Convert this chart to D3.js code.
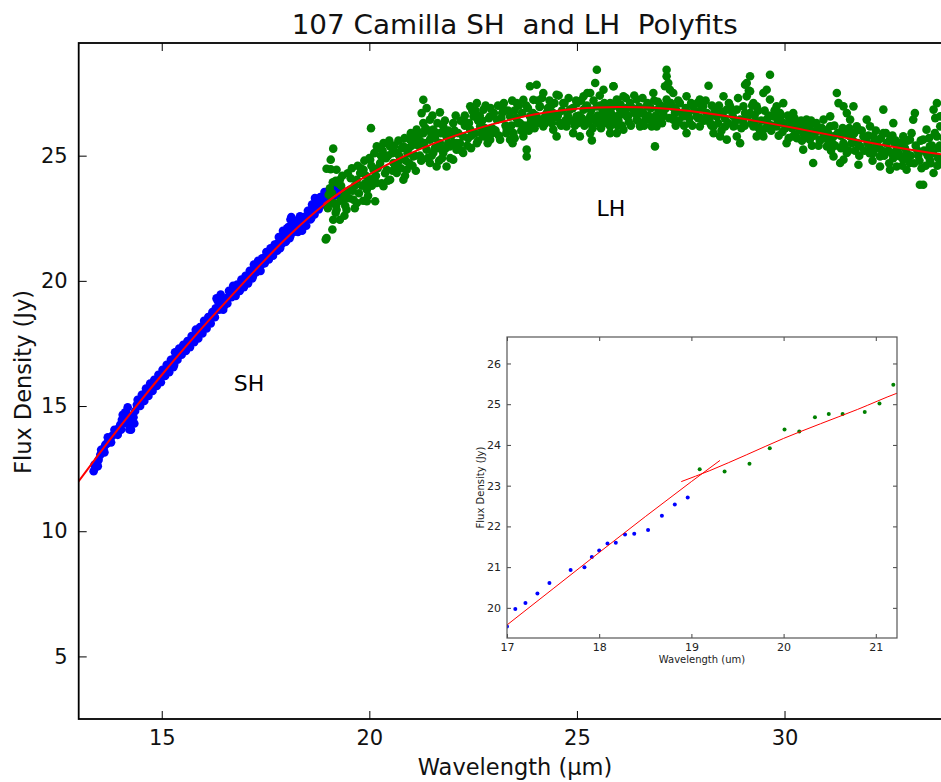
<!DOCTYPE html>
<html>
<head>
<meta charset="utf-8">
<script src="https://cdn.jsdelivr.net/npm/d3@7"></script>
<style>
  html, body { margin: 0; padding: 0; background: #fff; }
  svg { display: block; font-family: "DejaVu Sans", sans-serif; }
</style>
</head>
<body>
<svg id="chart" width="941" height="782"></svg>
<script>
// ---------------- DATA ----------------
const title = "107 Camilla SH  and LH  Polyfits";
const xTicks = [15, 20, 25, 30];
const yTicks = [5, 10, 15, 20, 25];
const insetXTicks = [17, 18, 19, 20, 21];
const insetYTicks = [20, 21, 22, 23, 24, 25, 26];

// SH spectrum (wavelength um, flux Jy)
const shPoints = [
 [13.36,12.40],[13.40,12.55],[13.44,12.70],[13.48,12.85],[13.52,13.05],[13.56,13.20],[13.60,13.30],[13.64,13.45],
 [13.68,13.50],[13.72,13.62],[13.76,13.70],[13.80,13.80],[13.84,13.85],[13.88,13.95],[13.92,14.05],[13.96,14.10],
 [14.00,14.25],[14.04,14.45],[14.08,14.60],[14.12,14.75],[14.16,14.70],[14.20,14.35],[14.24,14.20],[14.28,14.35],
 [14.32,14.55],[14.36,14.80],[14.40,15.05],[14.45,15.15],[14.50,15.25],[14.55,15.35],[14.60,15.50],[14.65,15.55],
 [14.70,15.70],[14.75,15.75],[14.80,15.85],[14.85,15.95],[14.90,16.05],[14.95,16.10],[15.00,16.25],[15.05,16.30],
 [15.10,16.45],[15.15,16.50],[15.20,16.60],[15.25,16.70],[15.30,16.90],[15.35,17.05],[15.40,17.10],[15.45,17.15],
 [15.50,17.25],[15.55,17.30],[15.60,17.40],[15.65,17.50],[15.70,17.60],[15.75,17.70],[15.80,17.85],[15.85,17.85],
 [15.90,17.95],[15.95,18.05],[16.00,18.20],[16.05,18.25],[16.10,18.35],[16.15,18.40],[16.20,18.55],[16.25,18.70],
 [16.30,18.90],[16.35,19.20],[16.40,19.30],[16.45,19.10],[16.50,19.00],[16.55,19.15],[16.60,19.35],[16.65,19.55],
 [16.70,19.60],[16.75,19.55],[16.80,19.60],[16.85,19.75],[16.90,19.80],[16.95,19.90],[17.00,19.95],[17.05,20.05],
 [17.10,20.15],[17.15,20.30],[17.20,20.45],[17.25,20.55],[17.30,20.60],[17.35,20.55],[17.40,20.65],[17.45,20.80],
 [17.50,20.95],[17.55,21.05],[17.60,21.10],[17.65,21.15],[17.70,21.25],[17.75,21.30],[17.80,21.50],[17.85,21.65],
 [17.90,21.80],[17.95,21.75],[18.00,21.95],[18.05,22.15],[18.10,22.45],[18.15,22.35],[18.20,22.20],[18.25,22.05],
 [18.30,22.25],[18.35,22.20],[18.40,22.30],[18.45,22.45],[18.50,22.60],[18.55,22.70],[18.60,22.85],[18.65,23.05],
 [18.70,23.10],[18.75,23.00],[18.80,23.15],[18.85,23.30],[18.90,23.35],[18.95,23.40],[19.00,23.30],[19.05,23.45],
 [19.10,23.50],[19.15,23.40],[19.20,23.65],[19.25,23.70],[19.30,23.55],
 [14.10,14.30],[14.22,14.06],[15.30,16.65],[16.38,18.85],[17.20,20.20],[17.85,21.30],[18.00,21.60],[18.10,21.80],
 [18.60,22.50],[18.33,22.58],[18.69,23.31],[18.89,23.37],[19.21,23.71],
 [13.38,12.65],[13.46,12.60],[13.54,13.25],[13.62,13.15],[13.70,13.75],[13.78,13.55],[13.86,14.05],[13.94,13.85],
 [14.02,14.05],[14.06,14.65],[14.14,14.55],[14.18,14.95],[14.26,14.05],[14.30,14.60],[14.34,14.30],[14.42,15.25],
 [14.48,15.00],[14.52,15.45],[14.58,15.20],[14.62,15.70],[14.68,15.40],[14.72,15.90],[14.78,15.60],[14.82,16.05],
 [14.88,15.80],[14.92,16.25],[14.98,15.95],[15.02,16.45],[15.08,16.20],[15.12,16.65],[15.18,16.35],[15.22,16.85],
 [15.28,16.55],[15.32,17.15],[15.38,16.85],[15.42,17.30],[15.48,17.05],[15.52,17.45],[15.58,17.20],[15.62,17.60],
 [15.68,17.35],[15.72,17.80],[15.78,17.55],[15.82,18.05],[15.88,17.70],[15.92,18.15],[15.98,17.90],[16.02,18.40],
 [16.08,18.10],[16.12,18.55],[16.18,18.30],[16.22,18.75],[16.28,18.55],[16.32,19.30],[16.42,19.45],[16.48,18.85],
 [16.52,19.25],[16.58,19.10],[16.62,19.60],[16.68,19.35],[16.72,19.80],[16.78,19.40],[16.82,19.85],[16.88,19.60],
 [16.92,20.05],[16.98,19.75],[17.02,20.20],[17.08,19.90],[17.12,20.40],[17.18,20.10],[17.22,20.65],[17.28,20.35],
 [17.32,20.80],[17.38,20.40],[17.42,20.90],[17.48,20.70],[17.52,21.15],[17.58,20.85],[17.62,21.30],[17.68,21.00],
 [17.72,21.45],[17.78,21.20],[17.82,21.75],[17.88,21.45],[17.92,22.00],[17.98,21.55],[18.02,22.10],[18.08,21.70],
 [18.12,22.55],[18.18,21.95],[18.22,22.40],[18.28,21.95],[18.32,22.45],[18.38,22.00],[18.42,22.55],[18.48,22.20],
 [18.52,22.80],[18.58,22.45],[18.62,23.05],[18.68,22.65],[18.72,23.25],[18.78,22.85],[18.82,23.35],[18.88,23.05],
 [18.92,23.55],[18.98,23.15],[19.02,23.60],[19.08,23.30],[19.12,23.65],[19.18,23.45],[19.22,23.80],[19.28,23.50]
];

// LH spectrum (wavelength um, flux Jy)
const lhPoints = [
 [19.13,25.28],[19.07,24.84],[18.97,24.48],[19.21,24.44],[19.29,24.04],[19.05,23.11],[19.13,22.44],[18.97,21.71],
 [19.21,22.84],[19.37,23.24],[19.45,23.51],[19.29,22.44],[18.95,21.65],[19.11,22.05],[19.19,24.00],[19.19,22.72],
 [19.07,24.46],[19.12,23.94],[19.02,23.44],
 [19.53,23.64],[19.70,24.04],[19.62,23.24],[19.78,24.31],[19.86,24.44],[19.45,22.84],[19.70,23.11],[19.94,23.18],
 [20.04,26.10],[20.14,23.18],
 [20.02,24.84],[20.18,25.37],[20.34,25.50],[20.50,25.37],[20.10,24.44],[20.26,24.71],[20.42,24.44],[20.18,23.91],
 [20.34,23.78],[20.50,24.04],[20.02,24.04],[19.94,23.64],
 [20.66,25.11],[20.82,25.37],[20.98,25.64],[21.14,25.77],[20.58,24.71],[20.74,24.84],[20.90,24.44],[21.06,24.97],
 [20.82,24.04],[20.66,24.31],[21.14,26.04],
 [21.30,27.23],[21.26,26.70],[21.38,26.90],[21.30,26.30],[21.46,26.44],[21.54,26.04],[21.30,25.90],[21.46,25.64],
 [21.62,25.90],[21.38,25.24],[21.54,25.11],[21.46,24.71],[21.62,24.57],
 [21.70,26.73],[21.78,26.17],[21.86,25.77],[22.02,26.30],[21.94,25.37],[21.78,25.11],[22.10,25.24],[21.86,24.57],
 [22.02,24.84],[21.70,25.50],
 [22.26,25.77],[22.43,26.97],[22.51,26.57],[22.34,26.30],[22.18,25.50],[22.59,25.50],[22.26,25.11],[22.43,26.04],
 [22.59,27.10],[22.75,26.84],[22.91,26.57],[22.67,26.17],[22.83,25.90],[22.99,26.04],[23.07,26.44],[22.91,25.64],
 [22.75,25.77],
 [23.23,26.84],[23.39,26.57],[23.55,27.10],[23.71,27.23],[23.31,26.04],[23.47,25.90],[23.63,26.30],[23.15,25.64],
 [23.39,25.64],[23.71,25.77],[23.79,24.97],[23.79,25.24],
 [23.87,27.77],[24.03,27.83],[24.19,27.50],[23.95,27.23],[24.11,26.97],[24.27,26.70],[23.87,26.57],[24.03,26.30],
 [24.19,26.17],[24.35,26.44],[24.51,27.43],
 [24.43,26.04],[24.51,25.77],[24.67,27.10],[24.83,26.84],[24.99,26.57],[24.59,26.30],[24.75,26.17],[24.91,25.90],
 [24.43,26.70],
 [25.48,28.43],[25.44,27.90],[25.32,27.50],[25.16,27.37],[25.64,27.63],[25.88,27.77],[25.80,27.10],[25.16,26.84],
 [25.32,26.57],[25.48,26.97],[25.64,26.44],[25.80,26.17],[25.96,26.57],[25.07,25.77],[25.32,25.90],[25.36,25.61],
 [25.80,25.90],[26.00,26.97],
 [25.88,27.77],[25.96,27.24],[26.12,27.37],[26.04,26.84],[26.20,26.57],[25.88,26.30],[26.12,26.04],[26.28,27.10],
 [25.96,25.90],
 [26.44,27.24],[26.60,26.70],[26.76,26.44],[26.92,26.17],[26.52,26.17],[26.68,26.97],[26.84,27.50],[27.00,26.44],
 [26.88,25.37],[26.60,26.30],[26.80,26.17],[26.96,26.84],[26.44,26.44],
 [27.16,28.43],[27.16,28.17],[27.20,27.90],[27.12,27.77],[27.24,27.63],[27.32,27.50],[27.16,27.24],[27.28,26.97],
 [27.36,26.70],[27.08,26.70],[27.32,26.44],
 [27.48,27.10],[27.64,27.37],[27.80,26.97],[27.96,27.24],[28.17,27.79],[28.13,26.70],[27.88,26.57],[27.72,26.30],
 [27.56,26.57],[27.64,25.90],[27.96,26.17],[28.21,26.30],[28.04,26.97],
 [28.29,26.17],[28.37,26.57],[28.53,27.37],[28.61,26.84],[28.69,26.97],[28.45,25.77],[28.61,25.64],[28.29,25.90],
 [28.57,26.17],
 [29.17,28.17],[29.09,27.90],[29.05,27.83],[29.17,27.57],[29.09,27.37],[29.25,27.10],[29.01,26.97],[28.85,26.84],
 [28.93,26.44],[28.77,26.17],[28.85,25.77],[28.93,25.50],[29.17,26.70],[29.33,26.97],[29.25,26.17],[29.33,25.77],
 [29.49,25.77],
 [29.57,27.63],[29.65,28.23],[29.49,27.50],[29.65,27.24],[29.81,26.97],[29.97,27.10],[29.73,26.57],[29.57,26.44],
 [29.81,26.17],[29.89,26.70],[29.41,26.04],
 [30.05,25.50],[30.13,26.44],[30.21,26.70],[30.29,26.30],[30.37,26.04],[30.45,25.90],[30.53,26.44],[30.61,25.64],
 [30.21,25.77],[30.45,25.24],[30.61,26.17],
 [30.69,24.71],[30.77,26.30],[30.86,25.64],[30.94,25.90],[31.02,25.37],[31.10,26.17],[31.18,25.77],[31.26,27.50],
 [31.30,27.10],[31.18,24.97],[31.34,24.71],[31.10,26.57],[30.94,26.44],
 [31.42,26.97],[31.50,26.70],[31.58,26.44],[31.66,26.97],[31.74,26.17],[31.42,25.50],[31.58,25.77],[31.78,26.04],
 [31.42,24.84],[31.50,25.11],[31.82,25.37],[31.90,25.77],[31.78,24.64],[31.98,26.44],
 [32.06,26.17],[32.14,25.77],[32.22,25.37],[32.30,24.97],[32.38,26.84],[32.46,25.50],[32.30,24.57],[32.54,24.44],
 [32.14,25.11],[32.54,25.64],[32.38,25.90],
 [32.62,26.30],[32.70,25.24],[32.78,24.97],[32.86,24.84],[32.94,25.11],[33.02,25.64],[32.86,25.77],[32.70,24.57],
 [32.94,24.44],[33.10,26.44],[33.14,26.70],[33.26,23.84],[33.34,23.84],[33.02,24.71],[32.78,25.37],
 [33.34,25.64],[33.42,26.04],[33.50,25.37],[33.59,26.84],[33.67,27.10],[33.75,26.57],[33.50,24.84],[33.59,24.31],
 [33.42,25.11],[33.67,25.77],[33.75,26.17],[33.63,26.50],[33.85,25.20],[33.90,26.00],
 // dense core along the spectrum
 [19.10,23.50],[19.20,23.00],[19.32,23.80],[19.40,23.40],[19.55,24.10],[19.60,23.60],[19.80,24.50],[19.90,23.90],
 [20.05,24.60],[20.10,24.10],[20.28,25.00],[20.38,24.30],[20.55,25.10],[20.62,24.60],[20.78,25.30],[20.88,24.80],
 [21.02,25.40],[21.10,25.00],[21.22,25.60],[21.22,25.00],[21.50,25.80],[21.58,25.30],[21.80,25.90],[21.90,25.50],
 [22.05,26.00],[22.10,25.50],[22.30,26.20],[22.38,25.70],[22.62,26.40],[22.70,25.90],[22.88,26.50],[22.95,26.10],
 [23.20,26.70],[23.28,26.20],[23.50,26.80],[23.58,26.30],[23.82,26.90],[23.90,26.40],[24.10,26.95],[24.20,26.50],
 [24.38,27.00],[24.48,26.55],[24.70,27.10],[24.78,26.60],[25.00,27.10],[25.05,26.60],[25.20,26.90],[25.25,26.40],
 [25.40,27.20],[25.50,26.60],[25.60,26.90],[25.68,26.30],[25.75,26.60],[25.85,26.95],[26.00,26.40],[26.05,27.05],
 [26.20,26.90],[26.25,26.35],[26.40,26.70],[26.50,26.95],[26.65,26.45],[26.70,27.10],[26.90,26.60],[26.95,27.15],
 [27.05,26.30],[27.10,26.95],[27.40,26.80],[27.45,26.40],[27.68,26.70],[27.75,27.10],[27.92,26.50],[28.00,26.85],
 [28.20,26.50],[28.25,27.00],[28.40,26.30],[28.50,26.75],[28.75,26.60],[28.80,26.20],[29.00,26.40],[29.05,26.70],
 [29.30,26.40],[29.38,26.10],[29.60,26.30],[29.68,26.00],[29.90,26.40],[29.95,25.95],[30.18,26.10],[30.25,25.85],
 [30.50,26.15],[30.55,25.80],[30.80,26.00],[30.85,25.60],[31.05,25.90],[31.15,25.50],[31.35,25.80],[31.45,25.40],
 [31.65,25.60],[31.70,25.20],[32.00,25.50],[32.05,25.10],[32.25,25.60],[32.35,25.20],[32.58,25.10],[32.65,25.50],
 [32.90,25.30],[32.98,24.90],[33.20,25.20],[33.25,24.80],[33.45,25.00],[33.55,25.40],[33.70,24.90],[33.72,25.30],
 [19.00,22.90],[19.05,23.70],[19.15,23.10],[19.25,23.90],[19.30,23.20],[19.35,24.20],[19.42,23.00],[19.48,24.30],
 [19.52,23.30],[19.58,24.50],[19.65,23.80],[19.72,24.60],[19.75,23.50],[19.82,23.80],[19.88,24.80],[19.92,24.20],
 [19.97,23.40],[19.40,22.60],[19.65,22.90],[19.85,23.20],
 [20.00,24.90],[20.06,23.80],[20.12,25.10],[20.16,24.20],[20.22,25.30],[20.30,23.90],[20.32,25.20],[20.40,24.90],
 [20.45,24.00],[20.48,25.60],[20.56,24.40],[20.60,25.40],[20.68,24.70],[20.70,25.60],[20.76,24.50],[20.85,25.70],
 [20.86,24.20],[20.92,25.10],[20.96,24.70],[21.00,25.90],[20.20,24.50],[20.45,25.00],[20.72,25.00],[20.95,25.30],
 [21.04,24.60],[21.08,25.60],[21.12,24.40],[21.18,25.40],[21.25,24.80],[21.32,25.50],[21.35,26.10],[21.40,24.90],
 [21.44,26.00],[21.50,25.00],[21.52,26.60],[21.58,25.70],[21.64,26.30],[21.66,25.30],[21.72,25.90],[21.75,24.90],
 [21.82,26.40],[21.84,25.30],[21.90,26.00],[21.95,24.90],[21.98,25.80],[21.20,25.90],[21.68,24.80],
 [22.04,25.50],[22.08,26.60],[22.14,25.90],[22.20,26.40],[22.22,25.20],[22.30,26.60],[22.36,25.40],[22.40,26.30],
 [22.46,25.80],[22.48,26.80],[22.54,25.90],[22.56,26.80],[22.62,25.60],[22.66,26.60],[22.72,26.40],[22.78,26.10],
 [22.80,27.00],[22.86,25.70],[22.92,26.90],[22.96,25.90],[23.00,26.70],[22.45,25.30],[22.85,25.50],
 [23.04,26.00],[23.10,27.00],[23.12,25.80],[23.18,26.50],[23.24,27.10],[23.30,25.90],[23.34,26.80],[23.42,26.20],
 [23.44,27.20],[23.50,25.70],[23.54,26.50],[23.60,27.00],[23.66,26.00],[23.68,26.70],[23.74,26.20],[23.78,27.00],
 [23.84,26.00],[23.88,26.30],[23.94,26.70],[23.98,26.10],[23.45,25.50],
 [24.02,26.60],[24.06,27.20],[24.14,26.40],[24.16,27.30],[24.24,26.30],[24.30,26.90],[24.34,27.20],[24.40,26.30],
 [24.46,27.10],[24.54,26.60],[24.56,27.40],[24.62,26.20],[24.64,26.80],[24.72,26.40],[24.80,27.30],[24.86,26.40],
 [24.90,26.90],[24.95,26.20],[24.98,27.20],
 [25.02,26.30],[25.10,27.20],[25.12,26.50],[25.18,26.20],[25.24,27.00],[25.28,26.30],[25.34,26.80],[25.38,26.10],
 [25.44,26.40],[25.52,26.30],[25.56,27.00],[25.58,26.10],[25.62,26.70],[25.66,27.10],[25.70,26.40],[25.72,26.90],
 [25.78,26.30],[25.82,26.70],[25.90,26.50],[25.92,27.10],[25.98,26.20],[25.55,27.40],[25.25,27.50],
 [26.02,26.60],[26.08,26.20],[26.14,26.80],[26.18,27.30],[26.24,26.60],[26.30,26.20],[26.34,26.90],[26.38,27.40],
 [26.46,26.40],[26.54,26.70],[26.58,27.30],[26.62,26.20],[26.72,26.60],[26.78,26.90],[26.82,26.30],[26.86,27.20],
 [26.94,26.40],[26.98,26.90],
 [27.02,27.00],[27.04,26.50],[27.14,26.90],[27.22,26.50],[27.26,27.10],[27.34,26.90],[27.38,26.20],[27.44,27.20],
 [27.52,26.70],[27.58,26.20],[27.62,26.90],[27.70,26.50],[27.78,26.20],[27.84,26.80],[27.90,27.10],[27.98,26.50],
 [28.06,26.40],[28.10,27.20],[28.16,26.60],[28.24,26.20],[28.32,26.80],[28.42,27.00],[28.48,26.00],[28.56,26.50],
 [28.64,26.30],[28.66,27.10],[28.72,26.80],[28.82,26.40],[28.88,27.30],[28.96,26.10],
 [29.04,26.20],[29.12,26.60],[29.14,27.60],[29.20,26.30],[29.22,27.00],[29.28,26.60],[29.36,26.80],[29.44,26.40],
 [29.46,25.90],[29.52,26.80],[29.54,26.10],[29.62,26.60],[29.70,26.20],[29.76,26.80],[29.84,26.40],[29.86,25.80],
 [29.92,26.60],[29.98,26.30],
 [30.02,26.10],[30.08,26.60],[30.10,25.70],[30.16,26.30],[30.24,26.50],[30.30,25.70],[30.34,26.20],[30.40,26.40],
 [30.42,25.60],[30.48,26.00],[30.58,25.90],[30.64,26.40],[30.66,25.40],[30.72,25.80],[30.76,26.00],[30.82,25.40],
 [30.90,26.10],[30.96,25.70],
 [31.00,26.00],[31.06,25.60],[31.12,25.20],[31.20,26.20],[31.22,25.40],[31.28,25.90],[31.36,25.30],[31.40,26.10],
 [31.48,25.90],[31.54,25.20],[31.56,26.10],[31.62,25.50],[31.68,25.90],[31.76,25.50],[31.80,25.00],[31.86,26.00],
 [31.92,25.20],[31.96,25.70],
 [32.02,25.80],[32.08,25.30],[32.12,24.80],[32.18,25.60],[32.20,26.00],[32.28,25.30],[32.32,25.70],[32.40,25.00],
 [32.44,25.90],[32.50,25.20],[32.52,24.70],[32.60,25.80],[32.62,24.90],[32.68,25.60],[32.74,25.10],[32.80,25.50],
 [32.84,24.60],[32.90,25.00],[32.96,25.60],
 [33.04,25.00],[33.06,25.90],[33.12,24.70],[33.16,25.40],[33.22,25.00],[33.28,25.60],[33.30,24.50],[33.36,25.20],
 [33.40,24.60],[33.48,25.70],[33.52,24.70],[33.58,25.10],[33.62,25.90],[33.68,24.60],[33.74,25.40],[33.80,24.80],
 [33.84,25.70],[33.92,24.60]
];

// Polynomial fit curves
const shFit = [[12.9,11.78],[13.0,12.00],[13.5,13.11],[14.0,14.19],[14.5,15.23],[15.0,16.24],[15.5,17.22],[16.0,18.17],
 [16.5,19.08],[17.0,19.98],[17.5,20.86],[18.0,21.70],[18.5,22.47],[19.0,23.16],[19.45,23.72]];
const lhFit = [[18.9,23.07],[19.05,23.24],[19.5,23.75],[20.0,24.25],[20.5,24.70],[21.0,25.10],[21.5,25.45],[22.0,25.76],
 [22.5,26.03],[23.0,26.27],[23.5,26.48],[24.0,26.65],[24.5,26.78],[25.0,26.87],[25.5,26.92],[26.0,26.94],
 [26.5,26.93],[27.0,26.89],[27.5,26.82],[28.0,26.72],[28.5,26.60],[29.0,26.47],[29.5,26.33],[30.0,26.18],
 [30.5,26.02],[31.0,25.86],[31.5,25.70],[32.0,25.54],[32.5,25.39],[33.0,25.25],[33.5,25.12],[34.0,25.00],[34.3,24.93]];

// Inset (zoom on the SH/LH junction)
const insetSH = [[17.00,19.54],[17.09,19.97],[17.20,20.12],[17.33,20.35],[17.46,20.61],[17.69,20.93],[17.84,21.00],
 [17.92,21.25],[18.00,21.41],[18.09,21.58],[18.18,21.60],[18.28,21.80],[18.38,21.82],[18.53,21.91],[18.68,22.26],
 [18.82,22.54],[18.96,22.71]];
const insetLH = [[19.09,23.40],[19.36,23.35],[19.63,23.54],[19.85,23.92],[20.01,24.38],[20.17,24.33],[20.34,24.68],
 [20.49,24.76],[20.64,24.76],[20.88,24.81],[21.04,25.02],[21.19,25.48]];
const insetSHFit = [[16.9,19.40],[17.0,19.58],[17.5,20.47],[18.0,21.36],[18.5,22.24],[19.0,23.10],[19.31,23.62]];
const insetLHFit = [[18.89,23.10],[19.2,23.37],[19.6,23.76],[20.0,24.16],[20.4,24.52],[20.8,24.87],[21.23,25.27],[21.5,25.48]];

// ---------------- DRAW ----------------
const svg = d3.select("#chart");
svg.append("rect").attr("width", 941).attr("height", 782).attr("fill", "#fff");

const L = 78.7, R = 950.6, T = 43, B = 719;
const x = d3.scaleLinear().domain([13, 34]).range([L, R]);
const y = d3.scaleLinear().domain([2.5, 29.5]).range([B, T]);

const defs = svg.append("defs");
defs.append("clipPath").attr("id", "mainClip").append("rect")
  .attr("x", L).attr("y", T).attr("width", R - L).attr("height", B - T);

const plot = svg.append("g").attr("clip-path", "url(#mainClip)");

plot.append("g").selectAll("circle").data(shPoints).join("circle")
  .attr("cx", d => x(d[0])).attr("cy", d => y(d[1])).attr("r", 4.3).attr("fill", "#0000ff");
plot.append("g").selectAll("circle").data(lhPoints).join("circle")
  .attr("cx", d => x(d[0])).attr("cy", d => y(d[1])).attr("r", 4.3).attr("fill", "#008000");

const line = d3.line().x(d => x(d[0])).y(d => y(d[1])).curve(d3.curveMonotoneX);
plot.append("path").attr("d", line(shFit)).attr("fill", "none").attr("stroke", "#ff0000").attr("stroke-width", 2);
plot.append("path").attr("d", line(lhFit)).attr("fill", "none").attr("stroke", "#ff0000").attr("stroke-width", 2);

// axes (ticks inside)
const fmt = d3.format("d");
const gx = svg.append("g").attr("transform", `translate(0,${B})`)
  .call(d3.axisBottom(x).tickValues(xTicks).tickFormat(fmt).tickSize(-8).tickPadding(11));
const gxt = svg.append("g").attr("transform", `translate(0,${T})`)
  .call(d3.axisTop(x).tickValues(xTicks).tickFormat("").tickSize(-8));
const gy = svg.append("g").attr("transform", `translate(${L},0)`)
  .call(d3.axisLeft(y).tickValues(yTicks).tickFormat(fmt).tickSize(-8).tickPadding(11));
const gyr = svg.append("g").attr("transform", `translate(${R},0)`)
  .call(d3.axisRight(y).tickValues(yTicks).tickFormat("").tickSize(-8));
[gx, gxt, gy, gyr].forEach(g => {
  g.select(".domain").remove();
  g.selectAll(".tick line").attr("stroke", "#000").attr("stroke-width", 1);
  g.selectAll("text").attr("font-family", "DejaVu Sans").attr("font-size", 21).attr("fill", "#111");
});
svg.append("rect").attr("x", L).attr("y", T).attr("width", R - L).attr("height", B - T)
  .attr("fill", "none").attr("stroke", "#000").attr("stroke-width", 1.8);

// titles & labels
svg.append("text").attr("x", (L + R) / 2).attr("y", 34).attr("text-anchor", "middle")
  .style("white-space", "pre").attr("xml:space", "preserve")
  .attr("font-size", 26).attr("fill", "#111")
  .attr("textLength", 446).attr("lengthAdjust", "spacingAndGlyphs").text(title);
svg.append("text").attr("x", 515).attr("y", 775).attr("text-anchor", "middle")
  .attr("font-size", 22.5).attr("fill", "#111").text("Wavelength (μm)");
svg.append("text").attr("transform", "translate(31,382) rotate(-90)").attr("text-anchor", "middle")
  .attr("font-size", 22.5).attr("fill", "#111").text("Flux Density (Jy)");
svg.append("text").attr("x", 249).attr("y", 391).attr("text-anchor", "middle")
  .attr("font-size", 22).attr("fill", "#000").text("SH");
svg.append("text").attr("x", 611).attr("y", 216).attr("text-anchor", "middle")
  .attr("font-size", 22).attr("fill", "#000").text("LH");

// ---------------- INSET ----------------
const iL = 507, iR = 897, iT = 337, iB = 638;
const ix = d3.scaleLinear().domain([17, 21.23]).range([iL, iR]);
const iy = d3.scaleLinear().domain([19.26, 26.65]).range([iB, iT]);
defs.append("clipPath").attr("id", "insetClip").append("rect")
  .attr("x", iL).attr("y", iT).attr("width", iR - iL).attr("height", iB - iT);

svg.append("rect").attr("x", iL).attr("y", iT).attr("width", iR - iL).attr("height", iB - iT).attr("fill", "#fff");
const ip = svg.append("g").attr("clip-path", "url(#insetClip)");
ip.append("g").selectAll("circle").data(insetSH).join("circle")
  .attr("cx", d => ix(d[0])).attr("cy", d => iy(d[1])).attr("r", 2).attr("fill", "#0000ff");
ip.append("g").selectAll("circle").data(insetLH).join("circle")
  .attr("cx", d => ix(d[0])).attr("cy", d => iy(d[1])).attr("r", 2).attr("fill", "#008000");
const iline = d3.line().x(d => ix(d[0])).y(d => iy(d[1]));
const ilineSmooth = d3.line().x(d => ix(d[0])).y(d => iy(d[1])).curve(d3.curveMonotoneX);
ip.append("path").attr("d", iline(insetSHFit)).attr("fill", "none").attr("stroke", "#ff0000").attr("stroke-width", 1);
ip.append("path").attr("d", ilineSmooth(insetLHFit)).attr("fill", "none").attr("stroke", "#ff0000").attr("stroke-width", 1);

const igx = svg.append("g").attr("transform", `translate(0,${iB})`)
  .call(d3.axisBottom(ix).tickValues(insetXTicks).tickFormat(fmt).tickSize(-4).tickPadding(5));
const igxt = svg.append("g").attr("transform", `translate(0,${iT})`)
  .call(d3.axisTop(ix).tickValues(insetXTicks).tickFormat("").tickSize(-4));
const igy = svg.append("g").attr("transform", `translate(${iL},0)`)
  .call(d3.axisLeft(iy).tickValues(insetYTicks).tickFormat(fmt).tickSize(-4).tickPadding(6));
const igyr = svg.append("g").attr("transform", `translate(${iR},0)`)
  .call(d3.axisRight(iy).tickValues(insetYTicks).tickFormat("").tickSize(-4));
[igx, igxt, igy, igyr].forEach(g => {
  g.select(".domain").remove();
  g.selectAll(".tick line").attr("stroke", "#444").attr("stroke-width", 1);
  g.selectAll("text").attr("font-family", "DejaVu Sans").attr("font-size", 11).attr("fill", "#222");
});
svg.append("rect").attr("x", iL).attr("y", iT).attr("width", iR - iL).attr("height", iB - iT)
  .attr("fill", "none").attr("stroke", "#555").attr("stroke-width", 1.2);
svg.append("text").attr("x", (iL + iR) / 2).attr("y", 663).attr("text-anchor", "middle")
  .attr("font-size", 10).attr("fill", "#222").text("Wavelength (um)");
svg.append("text").attr("transform", `translate(484,${(iT + iB) / 2}) rotate(-90)`).attr("text-anchor", "middle")
  .attr("font-size", 10).attr("fill", "#222").text("Flux Density (Jy)");
</script>
</body>
</html>
